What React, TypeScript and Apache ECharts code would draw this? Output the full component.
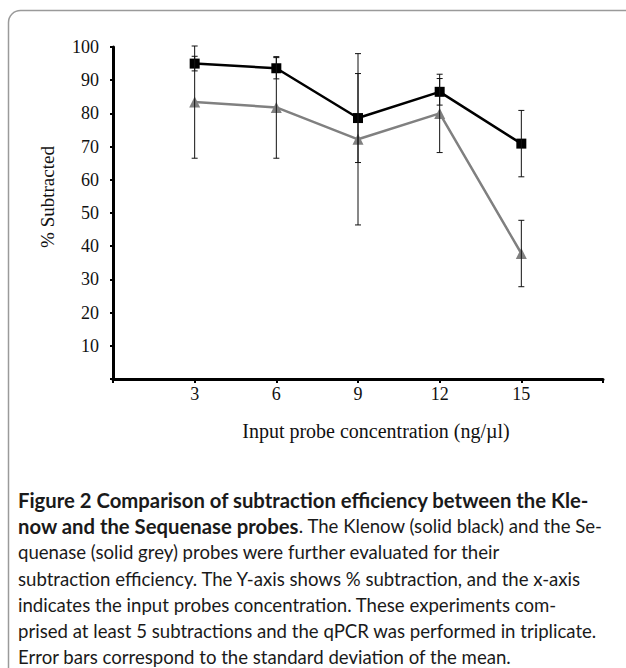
import React, { useEffect, useRef } from "react";
import * as echarts from "echarts";

const xValues = [3, 6, 9, 12, 15];
const klenowMean = [95.0, 93.6, 78.6, 86.5, 70.9];
const klenowSD = [2.2, 3.2, 13.4, 4.0, 10.0];
const sequenaseMean = [83.4, 81.8, 72.2, 80.0, 37.8];
const sequenaseSD = [16.9, 15.3, 25.8, 11.8, 10.0];

const yAxisTitle = "% Subtracted";
const xAxisTitle = "Input probe concentration (ng/\u00b5l)";

const captionBoldLine1 = "Figure 2 Comparison of subtraction efficiency between the Kle-";
const captionBoldLine2 = "now and the Sequenase probes";
const captionLine2Rest = ". The Klenow (solid black) and the Se-";
const captionLines = [
  "quenase (solid grey) probes were further evaluated for their",
  "subtraction efficiency. The Y-axis shows % subtraction, and the x-axis",
  "indicates the input probes concentration. These experiments com-",
  "prised at least 5 subtractions and the qPCR was performed in triplicate.",
  "Error bars correspond to the standard deviation of the mean.",
];

const SERIF = "'Liberation Serif', 'Times New Roman', serif";
const SANS = "Lato, 'Noto Sans', sans-serif";

function errData(mean: number[], sd: number[]) {
  return xValues.map((x, i) => [x, mean[i] - sd[i], mean[i] + sd[i]]);
}

function renderErr(params: any, api: any) {
  const x = api.value(0);
  const lo = api.coord([x, api.value(1)]);
  const hi = api.coord([x, api.value(2)]);
  const w = 3;
  const style = { stroke: "#111", lineWidth: 1 };
  return {
    type: "group",
    children: [
      { type: "line", shape: { x1: lo[0], y1: lo[1], x2: hi[0], y2: hi[1] }, style },
      { type: "line", shape: { x1: lo[0] - w, y1: lo[1], x2: lo[0] + w, y2: lo[1] }, style },
      { type: "line", shape: { x1: hi[0] - w, y1: hi[1], x2: hi[0] + w, y2: hi[1] }, style },
    ],
  };
}

export default function App() {
  const ref = useRef<HTMLDivElement>(null);
  useEffect(() => {
    if (!ref.current) return;
    const chart = echarts.init(ref.current, undefined, { renderer: "svg" });
    const lineH = 26.2;
    const capX = 18;
    const capY0 = 500;
    const FB = 20.3;
    const FR = 18.6;
    const captionGraphics: any[] = [
      {
        type: "text",
        x: capX,
        y: capY0,
        style: {
          text: captionBoldLine1,
          font: `bold ${FB}px ${SANS}`,
          fill: "#1a1a1a",
          verticalAlign: "middle",
        },
      },
      {
        type: "text",
        x: capX,
        y: capY0 + lineH,
        style: {
          text: `{b|${captionBoldLine2}}{r|${captionLine2Rest}}`,
          verticalAlign: "middle",
          rich: {
            b: { font: `bold ${FB}px ${SANS}`, fill: "#1a1a1a" },
            r: { font: `${FR}px ${SANS}`, fill: "#1a1a1a" },
          },
        },
      },
      ...captionLines.map((t, i) => ({
        type: "text",
        x: capX,
        y: capY0 + lineH * (i + 2),
        style: { text: t, font: `${FR}px ${SANS}`, fill: "#1a1a1a", verticalAlign: "middle" },
      })),
    ];
    chart.setOption({
      animation: false,
      backgroundColor: "#fff",
      grid: { left: 113, right: 23, top: 47, bottom: 289, containLabel: false },
      xAxis: {
        type: "value",
        min: 0,
        max: 18,
        interval: 3,
        splitLine: { show: false },
        axisLine: { lineStyle: { color: "#000", width: 3 } },
        axisTick: { length: 4, lineStyle: { color: "#000", width: 2 } },
        axisLabel: {
          margin: 6,
          color: "#111",
          fontFamily: SERIF,
          fontSize: 18,
          formatter: (v: number) => (v === 0 || v === 18 ? "" : String(v)),
        },
      },
      yAxis: {
        type: "value",
        min: 0,
        max: 100,
        interval: 10,
        splitLine: { show: false },
        axisLine: { show: true, lineStyle: { color: "#000", width: 3 } },
        axisTick: { show: true, length: 3, lineStyle: { color: "#000", width: 2 } },
        axisLabel: {
          margin: 14,
          color: "#111",
          fontFamily: SERIF,
          fontSize: 18,
          formatter: (v: number) => (v === 0 ? "" : String(v)),
        },
      },
      graphic: [
        {
          type: "rect",
          shape: { x: 8.5, y: 10.5, width: 700, height: 700, r: 12 },
          style: { fill: "none", stroke: "#9a9a9a", lineWidth: 1.5 },
          silent: true,
        },
        {
          type: "text",
          x: 47,
          y: 197,
          rotation: Math.PI / 2,
          style: {
            text: yAxisTitle,
            font: `19px ${SERIF}`,
            fill: "#111",
            align: "center",
            verticalAlign: "middle",
          },
        },
        {
          type: "text",
          x: 376,
          y: 431,
          style: {
            text: xAxisTitle,
            font: `20px ${SERIF}`,
            fill: "#111",
            align: "center",
            verticalAlign: "middle",
          },
        },
        ...captionGraphics,
      ],
      series: [
        {
          name: "Klenow",
          type: "line",
          data: xValues.map((x, i) => [x, klenowMean[i]]),
          symbol: "rect",
          symbolSize: 10,
          itemStyle: { color: "#000" },
          lineStyle: { color: "#000", width: 2.5 },
          z: 3,
        },
        {
          name: "Sequenase",
          type: "line",
          data: xValues.map((x, i) => [x, sequenaseMean[i]]),
          symbol: "triangle",
          symbolSize: 11,
          itemStyle: { color: "#808080" },
          lineStyle: { color: "#808080", width: 2.5 },
          z: 2,
        },
        {
          name: "Klenow SD",
          type: "custom",
          renderItem: renderErr,
          data: errData(klenowMean, klenowSD),
          encode: { x: 0, y: [1, 2] },
          z: 4,
        },
        {
          name: "Sequenase SD",
          type: "custom",
          renderItem: renderErr,
          data: errData(sequenaseMean, sequenaseSD),
          encode: { x: 0, y: [1, 2] },
          z: 4,
        },
      ],
    });
    return () => chart.dispose();
  }, []);
  return (
    <div
      ref={ref}
      style={{ position: "absolute", left: 0, top: 0, width: 626, height: 668 }}
    />
  );
}
